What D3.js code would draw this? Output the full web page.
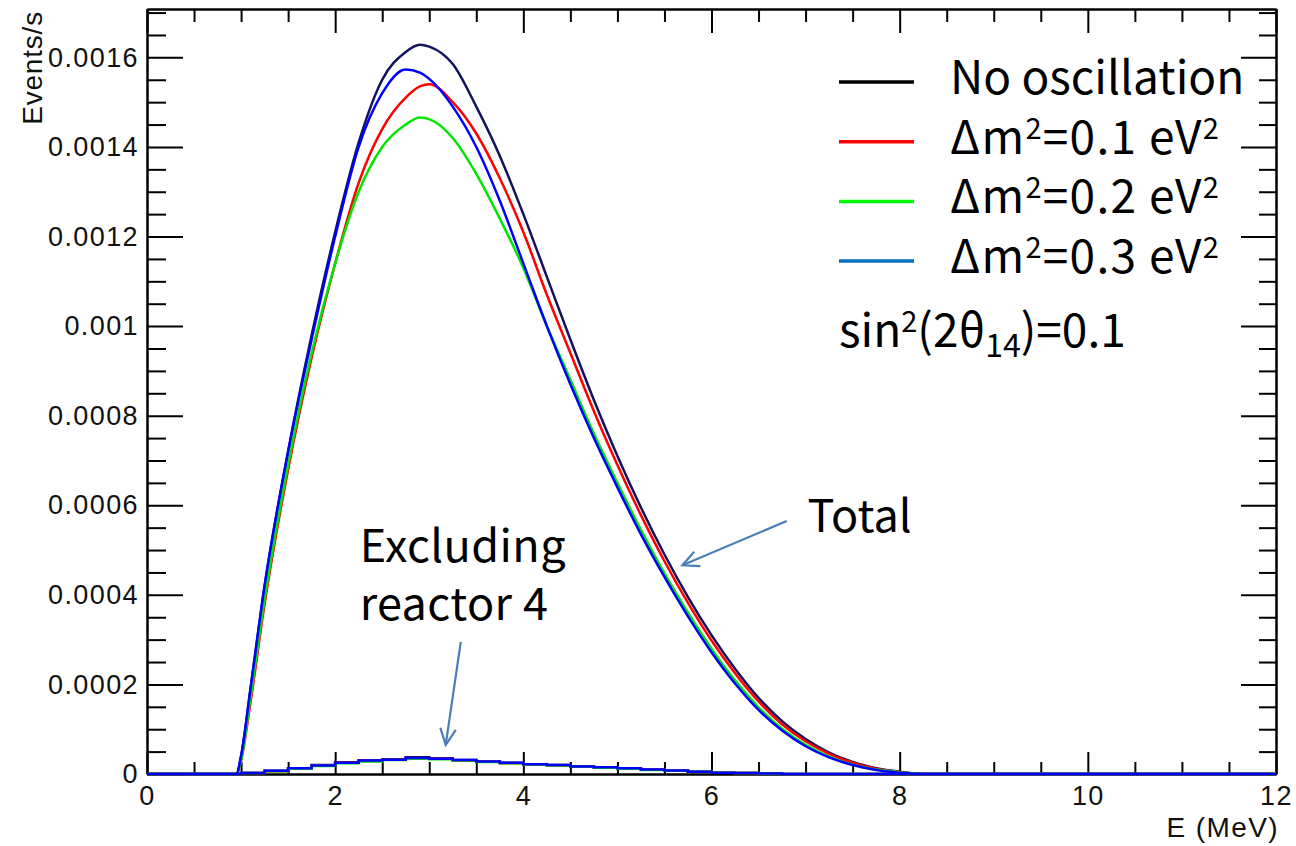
<!DOCTYPE html>
<html>
<head>
<meta charset="utf-8">
<script src="https://cdn.jsdelivr.net/npm/d3@7"></script>
<style>
  body { margin: 0; background: #fff; }
  .axis text { font-family: "Liberation Sans", Arial, sans-serif; font-size: 27px; fill: #111; letter-spacing: 1.4px; }
  .axis path, .axis line { stroke: #000; stroke-width: 2; }
  .note { font-family: "Noto Sans CJK KR", "Noto Sans", sans-serif; fill: #000; }
</style>
</head>
<body>
<svg id="chart" width="1296" height="846"></svg>
<script>

// energy grid (MeV) for the total spectra
var energy = [0, 0.95, 1.0, 1.1, 1.25, 1.5, 1.75, 2.0, 2.25, 2.5, 2.75, 2.9, 3.0, 3.25, 3.5, 3.75, 4.0, 4.25, 4.5,
  4.75, 5.0, 5.25, 5.5, 5.75, 6.0, 6.25, 6.5, 6.75, 7.0, 7.25, 7.5, 7.75, 8.0, 8.25, 12];

var totalNoOsc = [0, 0, 0.00004, 0.00019, 0.00042, 0.00072, 0.00098, 0.00121, 0.00141, 0.00155, 0.001612, 0.001628,
  0.001624, 0.001585, 0.00149, 0.00138, 0.00125, 0.00111, 0.00097, 0.000835, 0.00071, 0.000595, 0.00049, 0.000395,
  0.00031, 0.000235, 0.00017, 0.000118, 0.000078, 0.000048, 0.000027, 0.000013, 0.000005, 0, 0];
var totalDm01 = [0, 0, 0.00003, 0.00016, 0.00038, 0.00068, 0.00093, 0.00114, 0.00132, 0.00144, 0.00151, 0.001535,
  0.00154, 0.00150, 0.00143, 0.00133, 0.00121, 0.00107, 0.00094, 0.00081, 0.00069, 0.000578, 0.000475, 0.000382,
  0.000298, 0.000225, 0.000162, 0.000111, 0.000073, 0.000045, 0.000025, 0.000012, 0.0000045, 0, 0];
var totalDm02 = [0, 0, 0.00003, 0.00017, 0.00039, 0.00069, 0.00094, 0.00114, 0.00130, 0.00140, 0.00145, 0.001466,
  0.001462, 0.00142, 0.00134, 0.00124, 0.00113, 0.00100, 0.00088, 0.00076, 0.00065, 0.000545, 0.000448, 0.00036,
  0.00028, 0.000209, 0.000149, 0.000101, 0.000065, 0.000039, 0.000021, 0.00001, 0.000004, 0, 0];
var totalDm03 = [0, 0, 0.00004, 0.00019, 0.00042, 0.00072, 0.00097, 0.00120, 0.00140, 0.00152, 0.001573, 0.001566,
  0.001552, 0.00149, 0.00140, 0.00128, 0.00114, 0.00100, 0.00087, 0.00075, 0.00064, 0.000535, 0.00044, 0.000352,
  0.000272, 0.000202, 0.000143, 0.000097, 0.000062, 0.000037, 0.00002, 0.000009, 0.000003, 0, 0];

// coarser bins for the "excluding reactor 4" spectra
var exclEnergy = [0, 1.0, 1.25, 1.5, 1.75, 2.0, 2.25, 2.5, 2.75, 3.0, 3.25, 3.5, 3.75, 4.0, 4.25, 4.5, 4.75,
  5.0, 5.25, 5.5, 5.75, 6.0, 6.25, 6.5, 6.75, 12];
var exclNoOsc = [0, 0.000002, 0.000007, 0.000013, 0.00002, 0.000026, 0.00003, 0.000033, 0.0000375, 0.000035,
  0.000031, 0.000028, 0.000025, 0.000022, 0.00002, 0.000017, 0.000015, 0.000012, 0.00001, 0.000007, 0.000005,
  0.000003, 0.000002, 0.000001, 0, 0];
var exclDm01 = [0, 0.000002, 0.000006, 0.000012, 0.000019, 0.000025, 0.000029, 0.000032, 0.000035, 0.000034,
  0.00003, 0.000028, 0.000024, 0.000021, 0.000019, 0.000016, 0.000014, 0.000012, 0.00001, 0.000007, 0.000005,
  0.000003, 0.000002, 0.000001, 0, 0];
var exclDm02 = [0, 0.000002, 0.000006, 0.000012, 0.000018, 0.000024, 0.000028, 0.000031, 0.000034, 0.000033,
  0.00003, 0.000027, 0.000024, 0.000021, 0.000019, 0.000016, 0.000014, 0.000012, 0.000009, 0.000007, 0.000005,
  0.000003, 0.000002, 0.000001, 0, 0];
var exclDm03 = [0, 0.000002, 0.000007, 0.000013, 0.000019, 0.000025, 0.00003, 0.000032, 0.000036, 0.000034,
  0.000031, 0.000028, 0.000025, 0.000022, 0.00002, 0.000017, 0.000015, 0.000013, 0.00001, 0.000008, 0.000005,
  0.000003, 0.000002, 0.000001, 0, 0];

var seriesNames = ["No oscillation", "0.1", "0.2", "0.3"];
var lineColors = ["#12125e", "#ff0000", "#00e600", "#0000ff"];
var legendColors = ["#000000", "#ff0000", "#00ff00", "#0070c0"];

var xTicks = [0, 2, 4, 6, 8, 10, 12];
var xTickLabels = ["0", "2", "4", "6", "8", "10", "12"];
var yTicks = [0, 0.0002, 0.0004, 0.0006, 0.0008, 0.001, 0.0012, 0.0014, 0.0016];
var yTickLabels = ["0", "0.0002", "0.0004", "0.0006", "0.0008", "0.001", "0.0012", "0.0014", "0.0016"];

var svg = d3.select("#chart");
var margin = {top: 9, right: 20, bottom: 72, left: 147};
var width = 1296 - margin.left - margin.right,
    height = 846 - margin.top - margin.bottom;

var x = d3.scaleLinear().domain([0, 12]).range([margin.left, margin.left + width]);
var y = d3.scaleLinear().domain([0, 0.001708]).range([margin.top + height, margin.top]);

svg.append("rect").attr("width", 1296).attr("height", 846).attr("fill", "#fff");

// ---- axes, ROOT style: ticks inside on all four sides ----
var xMinor = d3.range(0, 12.01, 0.5).filter(function(v) { return v % 2 !== 0; });
var yMinor = d3.range(0, 0.00171, 0.00005).filter(function(v) { return Math.abs(v / 0.0002 - Math.round(v / 0.0002)) > 0.01; });

function addAxis(axis, tx, ty) {
  return svg.append("g").attr("class", "axis").attr("transform", "translate(" + tx + "," + ty + ")").call(axis);
}

addAxis(d3.axisBottom(x).tickValues(xTicks).tickFormat(function(d, i) { return xTickLabels[i]; })
  .tickSizeInner(-22).tickSizeOuter(0).tickPadding(12), 0, margin.top + height);
addAxis(d3.axisBottom(x).tickValues(xMinor).tickFormat("").tickSizeInner(-12).tickSizeOuter(0), 0, margin.top + height);
addAxis(d3.axisTop(x).tickValues(xTicks).tickFormat("").tickSizeInner(-24).tickSizeOuter(0), 0, margin.top);
addAxis(d3.axisTop(x).tickValues(xMinor).tickFormat("").tickSizeInner(-13).tickSizeOuter(0), 0, margin.top);

addAxis(d3.axisLeft(y).tickValues(yTicks).tickFormat(function(d, i) { return yTickLabels[i]; })
  .tickSizeInner(-36).tickSizeOuter(0).tickPadding(8), margin.left, 0);
addAxis(d3.axisLeft(y).tickValues(yMinor).tickFormat("").tickSizeInner(-19).tickSizeOuter(0), margin.left, 0);
addAxis(d3.axisRight(y).tickValues(yTicks).tickFormat("").tickSizeInner(-35).tickSizeOuter(0), margin.left + width, 0);
addAxis(d3.axisRight(y).tickValues(yMinor).tickFormat("").tickSizeInner(-17).tickSizeOuter(0), margin.left + width, 0);

svg.append("text")
  .attr("transform", "translate(42," + (margin.top + 2) + ") rotate(-90)")
  .attr("text-anchor", "end")
  .style("font-family", "Liberation Sans, Arial, sans-serif")
  .style("font-size", "28px")
  .style("letter-spacing", "0.8px")
  .style("fill", "#111")
  .text("Events/s");

svg.append("text")
  .attr("x", margin.left + width + 3)
  .attr("y", 837)
  .attr("text-anchor", "end")
  .style("font-family", "Liberation Sans, Arial, sans-serif")
  .style("font-size", "28px")
  .style("letter-spacing", "1.4px")
  .style("fill", "#111")
  .text("E (MeV)");

// ---- spectra ----
var line = d3.line()
  .curve(d3.curveMonotoneX)
  .x(function(d) { return x(d[0]); })
  .y(function(d) { return y(d[1]); });

var stepLine = d3.line()
  .curve(d3.curveStepAfter)
  .x(function(d) { return x(d[0]); })
  .y(function(d) { return y(d[1]); });

var totals = [totalNoOsc, totalDm01, totalDm02, totalDm03];
var excls = [exclNoOsc, exclDm01, exclDm02, exclDm03];

var plot = svg.append("g");

excls.forEach(function(vals, i) {
  plot.append("path")
    .datum(d3.zip(exclEnergy, vals))
    .attr("fill", "none")
    .attr("stroke", lineColors[i])
    .attr("stroke-width", 2.5)
    .attr("d", stepLine);
});

totals.forEach(function(vals, i) {
  plot.append("path")
    .datum(d3.zip(energy, vals))
    .attr("fill", "none")
    .attr("stroke", lineColors[i])
    .attr("stroke-width", 2.5)
    .attr("stroke-linejoin", "round")
    .attr("d", line);
});

// ---- legend ----
var legend = svg.append("g");
seriesNames.forEach(function(name, i) {
  var ly = 82 + i * 59.7;
  legend.append("line")
    .attr("x1", 839).attr("x2", 914)
    .attr("y1", ly).attr("y2", ly)
    .attr("stroke", legendColors[i])
    .attr("stroke-width", 3.5);
  var t = legend.append("text")
    .attr("class", "note")
    .attr("x", 950)
    .attr("y", ly + 12)
    .style("font-size", "46px");
  if (i === 0) {
    t.text(name);
  } else {
    t.style("letter-spacing", "1.3px");
    t.append("tspan").text("\u0394m");
    t.append("tspan").attr("dy", -15).style("font-size", "29px").text("2");
    t.append("tspan").attr("dy", 15).text("=" + name + " eV");
    t.append("tspan").attr("dy", -15).style("font-size", "29px").text("2");
  }
});

var sinText = svg.append("text")
  .attr("class", "note")
  .attr("x", 839)
  .attr("y", 347)
  .style("font-size", "46px");
sinText.append("tspan").text("sin");
sinText.append("tspan").attr("dy", -15).style("font-size", "29px").text("2");
sinText.append("tspan").attr("dy", 15).text("(2\u03b8");
sinText.append("tspan").attr("dy", 10).style("font-size", "32px").text("14");
sinText.append("tspan").attr("dy", -10).text(")=0.1");

// ---- annotations (positioned in data units) ----
var arrowColor = "#4a7ebb";

function arrow(e0, v0, e1, v1) {
  var x0 = x(e0), y0 = y(v0), x1 = x(e1), y1 = y(v1);
  var ang = Math.atan2(y1 - y0, x1 - x0);
  var len = 18, spread = 0.45;
  svg.append("line")
    .attr("x1", x0).attr("y1", y0).attr("x2", x1).attr("y2", y1)
    .attr("stroke", arrowColor).attr("stroke-width", 2.2);
  svg.append("path")
    .attr("d", "M" + (x1 - len * Math.cos(ang - spread)) + "," + (y1 - len * Math.sin(ang - spread)) +
      "L" + x1 + "," + y1 +
      "L" + (x1 - len * Math.cos(ang + spread)) + "," + (y1 - len * Math.sin(ang + spread)))
    .attr("fill", "none").attr("stroke", arrowColor).attr("stroke-width", 2.2);
}

arrow(6.80, 0.000565, 5.69, 0.000466);
arrow(3.335, 0.000295, 3.175, 0.000065);

svg.append("text").attr("class", "note")
  .attr("x", x(7.02)).attr("y", y(0.000541))
  .style("font-size", "45px").text("Total");

var excl = svg.append("text").attr("class", "note")
  .attr("x", x(2.26)).attr("y", y(0.000474))
  .style("font-size", "45px")
  .style("letter-spacing", "0.4px");
excl.append("tspan").attr("x", x(2.26)).text("Excluding");
excl.append("tspan").attr("x", x(2.26)).attr("dy", y(0.000344) - y(0.000474)).text("reactor 4");

</script>
</body>
</html>
